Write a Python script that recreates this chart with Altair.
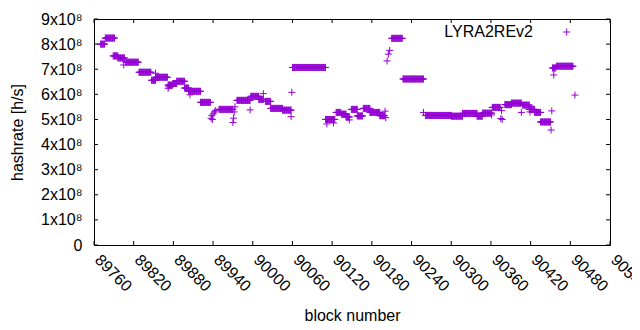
import altair as alt
import pandas as pd

# runs of consecutive blocks with (nearly) the same hashrate, in units of 1e8 h/s
seg_start = [89770, 89777, 89789, 89796, 89808, 89828, 89847, 89854, 89872, 89879,
             89885, 89897, 89903, 89921, 89949, 89976, 89997, 90009, 90019, 90027,
             90045, 90060, 90110, 90126, 90134, 90141, 90149, 90158, 90167, 90177,
             90192, 90210, 90227, 90261, 90300, 90317, 90339, 90347, 90362, 90381,
             90391, 90408, 90418, 90426, 90435, 90453, 90459]
seg_end = [89776, 89791, 89796, 89806, 89827, 89846, 89853, 89871, 89879, 89885,
           89897, 89903, 89921, 89936, 89970, 89996, 90009, 90016, 90027, 90045,
           90058, 90110, 90124, 90133, 90141, 90146, 90158, 90166, 90177, 90192,
           90199, 90226, 90258, 90300, 90317, 90339, 90347, 90361, 90374, 90391,
           90406, 90418, 90426, 90435, 90450, 90458, 90484]
seg_rate = [8.00, 8.24, 7.53, 7.45, 7.28, 6.88, 6.56, 6.68, 6.37, 6.43,
            6.52, 6.25, 6.12, 5.68, 5.40, 5.76, 5.92, 5.80, 5.72, 5.44,
            5.37, 7.07, 5.00, 5.28, 5.21, 5.10, 5.40, 5.14, 5.44, 5.28,
            5.15, 8.23, 6.61, 5.16, 5.13, 5.24, 5.13, 5.25, 5.48, 5.59,
            5.65, 5.57, 5.40, 5.28, 4.90, 7.05, 7.12]

# isolated blocks
single_block = [89805, 89853, 89872, 89873, 89905, 89937, 89938, 89939, 89940, 89942,
                89944, 89970, 89971, 89972, 89973, 89996, 90016, 90058, 90059, 90112,
                90122, 90146, 90200, 90201, 90203, 90205, 90207, 90258, 90361, 90375,
                90376, 90377, 90406, 90419, 90451, 90452, 90455, 90487]
single_rate = [7.17, 6.84, 6.24, 6.30, 5.98, 5.05, 5.15, 5.00, 5.22, 5.30,
               5.35, 4.88, 5.05, 5.30, 5.50, 5.38, 6.03, 5.11, 6.08, 4.82,
               4.86, 4.98, 5.33, 5.07, 7.33, 7.60, 7.75, 5.28, 5.18, 5.04,
               5.35, 5.00, 5.28, 5.30, 4.58, 5.34, 6.77, 5.97]

x_ticks = list(range(89760, 90541, 60))
y_ticks = [i * 1e8 for i in range(10)]
legend_label = "LYRA2REv2"

rows = []
for s, e, r in zip(seg_start, seg_end, seg_rate):
    for b in range(s, e + 1):
        rows.append({"block": b, "rate": r * 1e8})
for b, r in zip(single_block, single_rate):
    rows.append({"block": b, "rate": r * 1e8})
df = pd.DataFrame(rows)

W, H = 516, 226
PURPLE = "#9400D3"
FONT = "Liberation Sans"
FS = 16
PLUS = "M-1,0L1,0M0,-1L0,1"
TICK = 4

xscale = alt.Scale(domain=[89760, 90540], nice=False, zero=False)
yscale = alt.Scale(domain=[0, 9e8], nice=False, zero=True)

xaxis = alt.Axis(
    values=x_ticks, format="d", title="block number", ticks=False, domain=False,
    grid=False, labelAngle=45, labelAlign="left", labelBaseline="middle",
    labelPadding=12, labelOffset=3, labelFlush=False, labelOverlap=False, labelBound=False,
    labelFont=FONT, labelFontSize=FS, labelColor="black",
    titleFont=FONT, titleFontSize=FS, titleFontWeight="normal", titleColor="black",
    titleY=70, titleBaseline="middle")
yaxis = alt.Axis(
    values=y_ticks, title="hashrate [h/s]", ticks=False, domain=False, grid=False,
    labelExpr="datum.value == 0 ? '0' : format(datum.value / 1e8, 'd') + 'x10\u2078'",
    labelPadding=12, labelFlush=False, labelOverlap=False, labelBound=False,
    labelFont=FONT, labelFontSize=FS, labelColor="black",
    titleFont=FONT, titleFontSize=FS, titleFontWeight="normal", titleColor="black",
    titleX=-77, titleBaseline="middle")

points = alt.Chart(df).mark_point(
    shape=PLUS, filled=False, size=49, strokeWidth=1, color=PURPLE, opacity=1
).encode(
    x=alt.X("block:Q", scale=xscale, axis=xaxis),
    y=alt.Y("rate:Q", scale=yscale, axis=yaxis),
)

xt = pd.DataFrame({"block": x_ticks})
yt = pd.DataFrame({"rate": y_ticks})

bottom_ticks = alt.Chart(xt).mark_rule(color="black", strokeWidth=1).encode(
    x=alt.X("block:Q", scale=xscale, axis=xaxis), y=alt.value(H), y2=alt.value(H - TICK))
top_ticks = alt.Chart(xt).mark_rule(color="black", strokeWidth=1).encode(
    x=alt.X("block:Q", scale=xscale, axis=xaxis), y=alt.value(0), y2=alt.value(TICK))
left_ticks = alt.Chart(yt).mark_rule(color="black", strokeWidth=1).encode(
    y=alt.Y("rate:Q", scale=yscale, axis=yaxis), x=alt.value(0), x2=alt.value(TICK))
right_ticks = alt.Chart(yt).mark_rule(color="black", strokeWidth=1).encode(
    y=alt.Y("rate:Q", scale=yscale, axis=yaxis), x=alt.value(W), x2=alt.value(W - TICK))

leg = pd.DataFrame({"label": [legend_label]})
leg_text = alt.Chart(leg).mark_text(
    align="right", baseline="middle", font=FONT, fontSize=FS, color="black"
).encode(x=alt.value(439), y=alt.value(13), text="label:N")
leg_point = alt.Chart(leg).mark_point(
    shape=PLUS, filled=False, size=49, strokeWidth=1, color=PURPLE, opacity=1
).encode(x=alt.value(472.7), y=alt.value(13))

chart = alt.layer(
    points, bottom_ticks, top_ticks, left_ticks, right_ticks, leg_text, leg_point
).properties(
    width=W, height=H,
    autosize=alt.AutoSizeParams(type="none"),
    padding={"left": 86, "top": 11, "right": 22, "bottom": 83},
    background="white",
).configure_view(stroke="black", strokeWidth=1)

chart.save("out.html", embed_options={"renderer": "svg", "actions": False})
